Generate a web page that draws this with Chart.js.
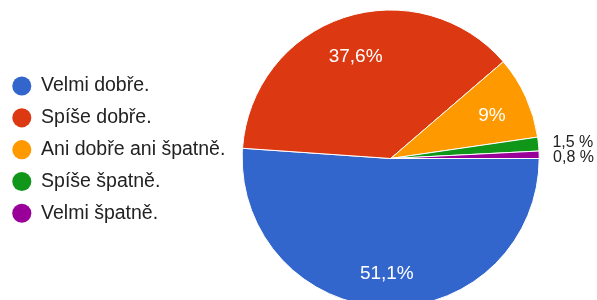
<!DOCTYPE html>
<html lang="cs">
<head>
<meta charset="UTF-8">
<title>Hodnocení</title>
<script src="https://cdn.jsdelivr.net/npm/chart.js"></script>
<style>
  body { margin: 0; background: #fff; }
  #wrap { width: 597px; height: 300px; overflow: hidden; }
</style>
</head>
<body>
<div id="wrap"><canvas id="pieChart" width="597" height="300"></canvas></div>
<script>
const labels = ['Velmi dobře.', 'Spíše dobře.', 'Ani dobře ani špatně.', 'Spíše špatně.', 'Velmi špatně.'];
const percents = [51.1, 37.6, 9, 1.5, 0.8];
const colors = ['#3366cc', '#dc3912', '#ff9900', '#109618', '#990099'];

const fontFamily = '"Liberation Sans", Arial, sans-serif';

function fmt(v) { return String(v).replace('.', ','); }

// popisky procent ve výsečích / vedle malých výsečí
const sliceLabels = {
  id: 'sliceLabels',
  afterDatasetsDraw(chart) {
    const ctx = chart.ctx;
    const arcs = chart.getDatasetMeta(0).data;
    let lastY = -Infinity;
    ctx.save();
    ctx.textBaseline = 'middle';
    arcs.forEach((arc, i) => {
      const p = arc.getProps(['x', 'y', 'startAngle', 'endAngle', 'outerRadius'], true);
      const mid = (p.startAngle + p.endAngle) / 2;
      const v = percents[i];
      if (v >= 5) {
        const r = p.outerRadius * 0.75;
        ctx.font = '19px ' + fontFamily;
        ctx.fillStyle = '#fff';
        ctx.textAlign = 'center';
        ctx.fillText(fmt(v) + '%', p.x + r * Math.cos(mid), p.y + r * Math.sin(mid) + 3.5);
      } else {
        const r = p.outerRadius + 14;
        const y = Math.max(p.y + r * Math.sin(mid), lastY + 15);
        lastY = y;
        ctx.font = '16px ' + fontFamily;
        ctx.fillStyle = '#222';
        ctx.textAlign = 'left';
        ctx.fillText(fmt(v) + ' %', p.x + r * Math.cos(mid), y);
      }
    });
    ctx.restore();
  }
};

const baseLabels = Chart.overrides.doughnut.plugins.legend.labels.generateLabels;

new Chart(document.getElementById('pieChart'), {
  type: 'doughnut',
  data: {
    labels: labels,
    datasets: [{
      data: percents,
      backgroundColor: colors,
      borderColor: '#fff',
      borderWidth: 1,
      hoverOffset: 0
    }]
  },
  options: {
    responsive: false,
    animation: false,
    cutout: 0,
    rotation: 90,
    radius: 148.5,
    layout: { padding: { left: 0, top: 17, right: 51, bottom: 0 } },
    plugins: {
      tooltip: { enabled: false },
      legend: {
        position: 'left',
        align: 'start',
        title: { display: true, text: '', padding: 17.25, font: { size: 10, lineHeight: 1.25 } },
        labels: {
          usePointStyle: true,
          pointStyle: 'circle',
          boxWidth: 19,
          boxHeight: 13.5,
          padding: 12.3,
          color: '#222',
          font: { size: 19.5, family: fontFamily },
          generateLabels(chart) {
            return baseLabels(chart).map(l => Object.assign(l, { lineWidth: 0 }));
          }
        }
      }
    }
  },
  plugins: [sliceLabels]
});
</script>
</body>
</html>
